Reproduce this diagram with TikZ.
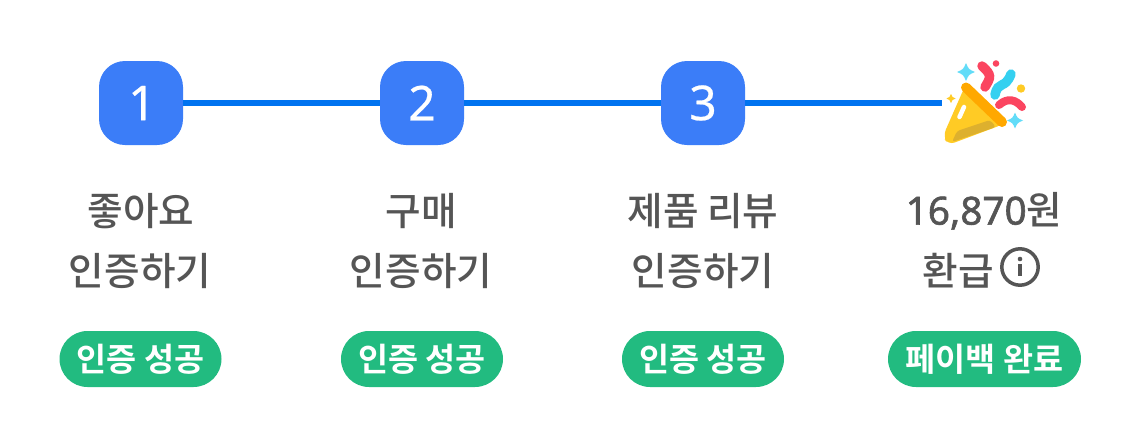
\documentclass[tikz,border=0pt]{standalone}
\usepackage{fontspec}
\newfontfamily\cjk{Noto Sans CJK KR Medium}
\newfontfamily\cjkpill{Noto Sans CJK KR Bold}
\newfontfamily\numfont{Noto Sans}[FakeBold=1.5]
\newfontfamily\stepfont{Noto Sans}[FakeBold=0.5]
\definecolor{stepblue}{HTML}{3B7DF8}
\definecolor{linkblue}{HTML}{0073F0}
\definecolor{pillgreen}{HTML}{22BB80}
\definecolor{labelgray}{HTML}{555555}
\definecolor{conecone}{HTML}{FFCB25}
\definecolor{coneshade}{HTML}{DDB02E}
\definecolor{conerim}{HTML}{FFA800}
\definecolor{partyred}{HTML}{FB4560}
\definecolor{partycyan}{HTML}{35D0F0}
\definecolor{partysky}{HTML}{62DCF8}
\tikzset{
	stepbox/.style={fill=stepblue,text=white,rounded corners=26*0.75pt,minimum size=84*0.75pt,inner sep=0pt,font=\stepfont\fontsize{36}{36}\selectfont},
	steplabel/.style={text=labelgray,inner sep=0pt,font=\cjk\fontsize{29}{30}\selectfont},
	pill/.style={fill=pillgreen,text=white,rounded corners=28*0.75pt,minimum height=56*0.75pt,inner sep=0pt,font=\cjkpill\fontsize{24.5}{26}\selectfont},
	steplink/.style={draw=linkblue,line width=6*0.75pt},
	confetti/.style={line width=9.5*0.75pt,line cap=round}
}
\newcommand{\sparkle}[4]{\fill[#4] (#1-#3,#2) .. controls (#1-0.3*#3,#2-0.3*#3) .. (#1,#2-#3) .. controls (#1+0.3*#3,#2-0.3*#3) .. (#1+#3,#2) .. controls (#1+0.3*#3,#2+0.3*#3) .. (#1,#2+#3) .. controls (#1-0.3*#3,#2+0.3*#3) .. cycle;}
\begin{document}
\begin{tikzpicture}[x=0.75pt,y=-0.75pt]
	\useasboundingbox (0,0) rectangle (1125,422);
	% steps
	\node[stepbox] (one) at (141,103) {\hspace{1.5pt}1};
	\node[stepbox] (two) at (422,103) {2};
	\node[stepbox] (three) at (703,103) {3};
	\coordinate (party) at (942,102.5);
	\draw[steplink] (one.east |- party)--(two.west |- party);
	\draw[steplink] (two.east |- party)--(three.west |- party);
	\draw[steplink] (three.east |- party)--(party);
	% popper
	\fill[conecone,rounded corners=7*0.75pt] (965,86)--(1004,124)--(948,145)--(943,136)--cycle;
	\fill[coneshade,rounded corners=3*0.75pt] (957,131)--(990,120)--(996,127)--(952,142)--cycle;
	\draw[white,line width=4.5*0.75pt,line cap=round] (959.5,117)--(964,107);
	\draw[conerim,line width=10*0.75pt,line cap=round] (966,87.5)--(1002,122);
	\draw[confetti,partyred] (982,66) .. controls (992,75) and (991,77) .. (985,87);
	\fill[partyred] (996,63.5) circle (3.3);
	\draw[confetti,partycyan] (1011,74) .. controls (1005,90) and (998,80) .. (995,95);
	\fill[conecone] (1021,88.5) circle (4.2);
	\draw[confetti,partyred,line width=8*0.75pt] (999,105) .. controls (1008,97) and (1016,100) .. (1022,107);
	\sparkle{966}{72}{9}{partysky}
	\sparkle{1015}{120.5}{8}{partysky}
	\sparkle{951}{98.5}{4.5}{conecone}
	% labels
	\node[steplabel] (likea) at (141,211) {좋아요};
	\node[steplabel] (likeb) at (140,271) {인증하기};
	\node[steplabel] (buya) at (421,211) {구매};
	\node[steplabel] (buyb) at (421,271) {인증하기};
	\node[steplabel] (reviewa) at (703,211) {제품 리뷰};
	\node[steplabel] (reviewb) at (703,271) {인증하기};
	\node[steplabel] (cash) at (984,211) {{\numfont 16,870}원};
	\node[steplabel] (back) at (958,271) {환급};
	% info icon
	\draw[labelgray,line width=3.5*0.75pt] (1020,267) circle (18.2);
	\fill[labelgray] (1020,259) circle (2.3);
	\draw[labelgray,line width=3.6*0.75pt] (1020,264)--(1020,276);
	% pills
	\node[pill,minimum width=162*0.75pt] (oka) at (140.5,359) {인증 성공};
	\node[pill,minimum width=162*0.75pt] (okb) at (422,359) {인증 성공};
	\node[pill,minimum width=162*0.75pt] (okc) at (703,359) {인증 성공};
	\node[pill,minimum width=193*0.75pt] (done) at (984.5,359) {페이백 완료};
\end{tikzpicture}
\end{document}
